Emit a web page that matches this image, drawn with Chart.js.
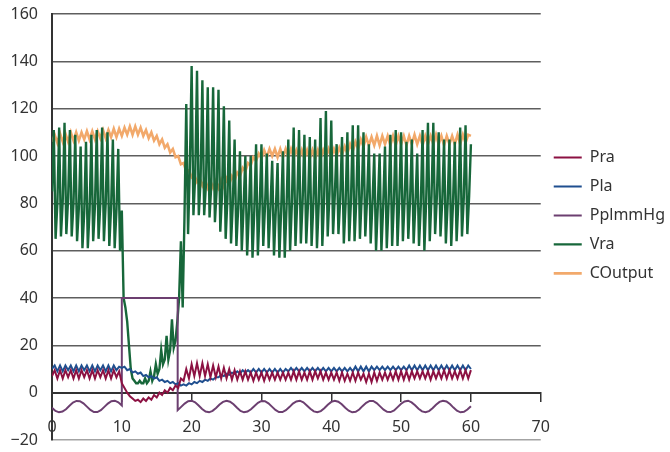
<!DOCTYPE html>
<html>
<head>
<meta charset="utf-8">
<script src="https://cdn.jsdelivr.net/npm/chart.js@4.4.1/dist/chart.umd.min.js"></script>
<style>
  html, body { margin: 0; padding: 0; background: #fff; }
  #wrap { width: 670px; height: 452px; }
</style>
</head>
<body>
<div id="wrap"><canvas id="c" width="670" height="452"></canvas></div>
<script>
// ---- data ----
// Vra / Pra / Pla / COutput are sampled at a fixed step over 0..60 s
const VRA_STEP = 60 / 234;
const P_STEP   = 60 / 156;

const vra = [
  85,
  111, 65, 80,  112, 66, 81,  114, 67, 82,  111, 66, 80,  109, 64, 78,
  104, 61, 76,  106, 61, 77,  109, 64, 79,  111, 65, 80,  112, 64, 80,
  110, 62, 78,  107, 61, 77,  103, 60, 77,
  40, 36, 30, 20, 10, 6, 5, 4, 4, 5, 4, 4, 6, 4, 5, 9, 5, 7, 12, 8,
  10, 18, 12, 14, 24, 14, 18, 31, 19, 22, 30, 40, 64, 36, 74,
  122, 67, 95,  138, 75, 92,  136, 75, 90,  132, 75, 88,  129, 74, 88,
  129, 72, 86,  128, 68, 84,  121, 65, 82,  115, 63, 80,  107, 62, 78,
  102, 60, 78,  100, 58, 77,  100, 57, 77,  105, 58, 78,  105, 62, 79,
  101, 61, 78,   98, 58, 77,   97, 57, 77,  102, 57, 78,  107, 60, 80,
  112, 62, 81,  111, 63, 81,  109, 63, 80,  108, 62, 80,  107, 61, 80,
  116, 62, 82,  119, 66, 84,  115, 67, 84,  105, 67, 82,  108, 63, 80,
  110, 64, 81,  113, 64, 82,  113, 65, 83,  110, 66, 82,  105, 63, 80,
  101, 60, 79,  101, 60, 79,  104, 61, 80,  109, 62, 81,  111, 62, 82,
  110, 64, 82,  106, 65, 81,  107, 63, 80,  101, 62, 79,  111, 60, 81,
  114, 64, 83,  114, 67, 83,  110, 66, 81,  107, 63, 80,  107, 62, 80,
  106, 64, 81,  112, 66, 82,  113, 67, 83,
  105
];

const pra = [
  7, 9.5, 6, 9.5, 6, 9.5, 6.5, 9.5, 6, 9.5, 6, 9.5, 6.5, 9.5, 6, 9.5, 6, 9.5, 6.5, 9.5,
  6, 9.5, 6, 9.5, 6.5, 9,
  4, 2, 0, -1.5, -2.5, -3.5, -3, -4, -2.5, -3.5, -2, -3, -1, -2, 0, -1, 1, 0, 2, 1, 3, 2, 6, 5,
  10, 6, 12, 7, 12.5, 7, 12.5, 7, 12, 6.5, 11.5, 6.5, 11, 6, 10.5, 6, 10, 5.5, 9.5, 5.5,
  9, 5.5, 9, 5.5, 8.5, 5,
  8.5, 5.5, 8.5, 5, 8.5, 5.5, 8.5, 5.5, 8.5, 5.5,
  8.5, 5.5, 8.5, 5.5, 9, 5.5, 9, 5.5, 8.5, 5.5,
  9, 5.5, 9, 6, 9, 5.5, 8.5, 5.5, 8.5, 5.5,
  8.5, 5, 8.5, 5, 8, 5, 8.5, 5, 8.5, 5.5,
  8, 4.5, 8, 4.5, 8.5, 5, 8.5, 5.5, 8.5, 5.5,
  8.5, 5.5, 9, 5.5, 9, 5.5, 9, 5.5, 9, 6,
  9, 6, 9, 6, 9, 5.5, 9, 6, 9, 6,
  9.5, 6, 9.5, 6, 9, 6, 9.5, 6, 9.5, 6,
  9.5
];

const pla = [
  10, 11.5, 9, 11.5, 9, 11.5, 9.5, 11.5, 9, 11.5, 9, 11.5, 9.5, 11.5, 9, 11.5, 9, 11.5, 9.5, 11.5,
  9, 11.5, 9, 11.5, 9.5, 11,
  10.5, 11, 9.5, 10, 8.5, 9, 8, 8.5, 7, 7.5, 6.5, 7, 6, 6.5, 5, 5.5, 4.5, 5, 4, 4.5,
  3.5, 4, 3, 3.5, 3, 4, 3.5, 4.5, 4, 5, 4.5, 5.5, 5, 6, 5.5, 6.5, 6.5, 7.5, 7, 8,
  7.5, 8.5, 8, 9, 8, 9.5, 8.5, 9.5, 8.5, 10,
  8.5, 10, 8.5, 10, 8.5, 10, 8.5, 10, 8.5, 10,
  8.5, 10, 9, 10.5, 9, 10.5, 9, 10.5, 9, 10.5,
  9, 10.5, 9, 10.5, 9, 10.5, 9, 10.5, 9, 10.5,
  9, 10.5, 9, 10.5, 9, 10.5, 9, 11, 9, 11,
  9, 11, 9, 11, 9.5, 11, 9.5, 11, 9.5, 11,
  9.5, 11, 9.5, 11, 9.5, 11, 9.5, 11.5, 9.5, 11.5,
  9.5, 11.5, 9.5, 11.5, 9.5, 11.5, 9.5, 11.5, 9.5, 11.5,
  9.5, 11.5, 9.5, 11.5, 9.5, 11.5, 9.5, 11.5, 9.5, 11.5,
  10
];

const cOutput = [
  106, 109, 105.5, 109.5, 106, 109.5, 106, 110, 106.5, 110, 106.5, 110, 107, 110.5, 107, 110.5,
  107, 110.5, 107.5, 111, 107.5, 111, 108, 111.5, 108, 111.5,
  108.5, 112, 109, 112.5, 109, 112.5, 109, 112, 108.5, 111, 107.5, 110, 106.5, 108.5,
  105, 107, 103.5, 105, 101.5, 103, 99.5, 100, 96.5, 97, 93.5, 94, 91, 92, 89, 90.5,
  87.5, 90, 86.5, 89.5, 86.5, 89.5, 86.5, 90, 87, 90.5, 88, 91.5, 89.5, 93, 91.5, 95,
  93.5, 97, 96, 99.5, 98, 101, 99, 102.5, 99.5, 103, 100, 103, 99.5, 103, 99.5, 103,
  99.5, 103, 99.5, 102.5, 99, 102.5, 99, 102.5, 99, 102.5, 99, 102.5, 99, 102.5,
  99.5, 103, 99.5, 103, 100, 103.5, 100.5, 104, 101, 105, 102, 106, 103, 107, 104, 108,
  104.5, 108, 104.5, 108.5, 104.5, 108.5, 105, 108.5, 104.5, 108.5, 104.5, 108.5,
  105, 108.5, 104.5, 108.5, 105, 109, 105, 108.5, 104.5, 108.5, 105, 108.5, 105, 109,
  105, 108.5, 104.5, 108.5, 105, 108.5, 105, 109, 105, 109, 105.5, 109, 108.5
];

// PplmmHg: explicit time stamps (step at 10 s and 18 s)
const pplT = [
  0, 0.5, 1, 1.5, 2, 2.5, 3, 3.5, 4, 4.5, 5, 5.5, 6, 6.5, 7, 7.5, 8, 8.5, 9, 9.5, 10,
  10, 18,
  18, 18.5, 19, 19.5, 20, 20.5, 21, 21.5, 22, 22.5, 23, 23.5, 24, 24.5, 25, 25.5,
  26, 26.5, 27, 27.5, 28, 28.5, 29, 29.5, 30, 30.5, 31, 31.5, 32, 32.5, 33, 33.5,
  34, 34.5, 35, 35.5, 36, 36.5, 37, 37.5, 38, 38.5, 39, 39.5, 40, 40.5, 41, 41.5,
  42, 42.5, 43, 43.5, 44, 44.5, 45, 45.5, 46, 46.5, 47, 47.5, 48, 48.5, 49, 49.5,
  50, 50.5, 51, 51.5, 52, 52.5, 53, 53.5, 54, 54.5, 55, 55.5, 56, 56.5, 57, 57.5,
  58, 58.5, 59, 59.5, 60
];
const pplV = [
  -6.4, -7.7, -8.3, -8.0, -7.0, -5.5, -4.2, -3.5, -3.6, -4.5, -5.9, -7.3, -8.2, -8.2, -7.4,
  -6.0, -4.6, -3.6, -3.4, -4.1, -5.4,
  40, 40,
  -7.4, -6.0, -4.6, -3.6, -3.4, -4.1, -5.4, -6.9, -8.0, -8.3, -7.7, -6.5, -5.0, -3.9, -3.4, -3.8,
  -4.9, -6.4, -7.7, -8.3, -8.0, -7.0, -5.6, -4.3, -3.5, -3.6, -4.5, -5.9, -7.3, -8.2, -8.2, -7.4,
  -6.1, -4.6, -3.7, -3.4, -4.1, -5.4, -6.8, -7.9, -8.3, -7.8, -6.6, -5.1, -3.9, -3.4, -3.8, -4.9,
  -6.4, -7.6, -8.3, -8.1, -7.1, -5.6, -4.3, -3.5, -3.5, -4.4, -5.8, -7.2, -8.1, -8.2, -7.5, -6.1,
  -4.7, -3.7, -3.4, -4.1, -5.3, -6.8, -7.9, -8.3, -7.8, -6.6, -5.1, -3.9, -3.4, -3.7, -4.8, -6.3,
  -7.6, -8.3, -8.1, -7.1, -5.7
];

const seriesNames = ['Pra', 'Pla', 'PplmmHg', 'Vra', 'COutput'];
const seriesColors = ['#8c1142', '#1f4f8f', '#6c3f70', '#17673a', '#f2a96b'];

const yTicks = [-20, 0, 20, 40, 60, 80, 100, 120, 140, 160];
const xTicks = [0, 10, 20, 30, 40, 50, 60, 70];

function sampled(vals, step) {
  return vals.map((v, i) => ({ x: i * step, y: v }));
}

const seriesData = [
  sampled(pra, P_STEP),
  sampled(pla, P_STEP),
  pplT.map((t, i) => ({ x: t, y: pplV[i] })),
  sampled(vra, VRA_STEP),
  sampled(cOutput, P_STEP)
];

const widths = [2, 2, 2, 2.4, 2.6];

Chart.defaults.font.family = '"Noto Sans", "Open Sans", sans-serif';
Chart.defaults.color = '#333';

new Chart(document.getElementById('c'), {
  type: 'line',
  data: {
    datasets: seriesNames.map((name, i) => ({
      label: name,
      data: seriesData[i],
      borderColor: seriesColors[i],
      backgroundColor: seriesColors[i],
      borderWidth: widths[i],
      pointRadius: 0,
      tension: 0,
      fill: false
    }))
  },
  options: {
    responsive: false,
    devicePixelRatio: 1,
    animation: false,
    layout: { padding: { top: 0, left: 10, right: -5, bottom: 0 } },
    plugins: {
      tooltip: { enabled: false },
      legend: {
        position: 'right',
        align: 'start',
        title: { display: true, text: '', padding: { top: 122, bottom: 0 } },
        labels: {
          usePointStyle: true,
          pointStyle: 'line',
          pointStyleWidth: 28,
          boxWidth: 28,
          padding: 13,
          color: '#333',
          font: { size: 16 }
        }
      }
    },
    scales: {
      x: {
        type: 'linear',
        position: { y: 0 },
        min: 0,
        max: 70,
        afterBuildTicks: s => { s.ticks = xTicks.map(v => ({ value: v })); },
        afterFit: s => { s.paddingTop = 0; s.paddingBottom = 0; },
        ticks: { font: { size: 16 }, color: '#333', padding: 17, maxRotation: 0 },
        grid: { drawOnChartArea: false, drawTicks: true, tickLength: 8, color: '#333', lineWidth: 1.5 },
        border: { display: true, color: '#333', width: 2 }
      },
      y: {
        min: -20,
        max: 160,
        afterBuildTicks: s => { s.ticks = yTicks.map(v => ({ value: v })); },
        afterFit: s => { s.width = 42; s.paddingTop = 14; s.paddingBottom = 12; },
        ticks: {
          font: { size: 16 },
          color: '#333',
          padding: 14,
          callback: v => (v < 0 ? '\u2212' + Math.abs(v) : String(v))
        },
        grid: {
          drawTicks: false,
          color: c => (c.tick.value === -20 ? '#a3a3a3' : c.tick.value === 0 ? '#333' : '#5e5e5e'),
          lineWidth: 1.6
        },
        border: { display: true, color: '#333', width: 2 }
      }
    }
  }
});
</script>
</body>
</html>
